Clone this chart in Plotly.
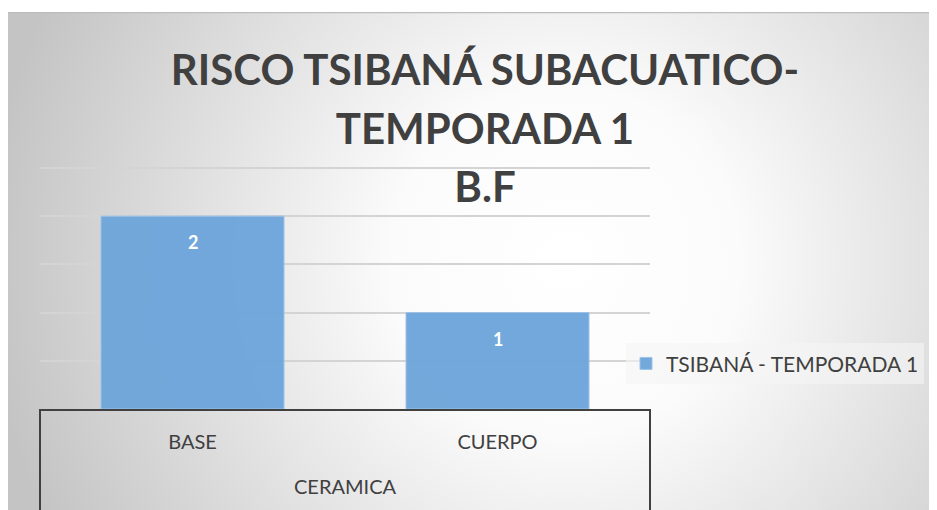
import base64
import plotly.graph_objects as go

# ---- data ----
group_label = "CERAMICA"
categories = ["BASE", "CUERPO"]
values = [2, 1]
series_name = "TSIBANÁ - TEMPORADA 1"
title_lines = ["RISCO TSIBANÁ SUBACUATICO-", "TEMPORADA 1", "B.F"]

# page body has an 8px margin, so the figure is 8px smaller than the window
W, H = 929, 502
ML, MR, MT, MB = 32, 287, 158, 101
pw, ph = W - ML - MR, H - MT - MB
YMAX = 2.52

FONT = "Lato"
DARK = "#404040"

# background radial gradient (Office style) as inline SVG
bg_w, bg_h = 932, 498
svg = f"""<svg xmlns='http://www.w3.org/2000/svg' width='{bg_w}' height='{bg_h}' viewBox='0 0 {bg_w} {bg_h}' preserveAspectRatio='none'>
<defs><radialGradient id='g' gradientUnits='userSpaceOnUse' cx='560' cy='250' r='580'>
<stop offset='0' stop-color='#ffffff'/><stop offset='0.3' stop-color='#fbfbfb'/>
<stop offset='1' stop-color='#c4c4c4'/></radialGradient></defs>
<rect x='0' y='0' width='{bg_w}' height='{bg_h}' fill='url(#g)'/>
<line x1='0' y1='0.5' x2='{bg_w}' y2='0.5' stroke='#bdbdbd' stroke-width='1.5'/>
</svg>"""
src = "data:image/svg+xml;base64," + base64.b64encode(svg.encode()).decode()

fig = go.Figure()
fig.add_trace(go.Bar(
    x=categories,
    y=values,
    name=series_name,
    marker=dict(color="#6fa6db", line=dict(color="#9cc2e8", width=1)),
    opacity=0.97,
    showlegend=True,
))

# data labels (inside end of each bar)
annotations = []
for i, v in enumerate(values):
    annotations.append(dict(
        x=i, y=v, xref="x", yref="y", text=f"<b>{v}</b>", showarrow=False,
        yanchor="middle", yshift=-26,
        font=dict(family=FONT, size=18, color="white"),
    ))
# outer category level label
annotations.append(dict(
    x=0.5, y=0, xref="paper", yref="paper", text=group_label, showarrow=False,
    yanchor="middle", yshift=-77,
    font=dict(family=FONT, size=20, color=DARK),
))

# group dividers of the two-level category axis
shapes = [
    dict(type="line", xref="paper", yref="paper", x0=xx, x1=xx, y0=0, y1=-(MB + 5) / ph,
         line=dict(color=DARK, width=2))
    for xx in (0, 1)
]

title_text = "<b>" + "<br>".join(
    f"<span style='font-size:42px'>{t}</span>" for t in title_lines) + "</b>"

fig.update_layout(
    width=W, height=H,
    margin=dict(l=ML, r=MR, t=MT, b=MB, pad=0),
    paper_bgcolor="white",
    plot_bgcolor="rgba(0,0,0,0)",
    bargap=0.4,
    title=dict(
        text=title_text,
        x=477 / W, xanchor="center",
        y=1 - 77 / H, yanchor="top",
        font=dict(family=FONT, size=45, color=DARK),
    ),
    font=dict(family=FONT, color=DARK),
    legend=dict(
        x=(618 - ML) / pw, xanchor="left",
        y=0.186, yanchor="middle",
        bgcolor="rgba(245,245,245,0.6)",
        font=dict(family=FONT, size=21, color=DARK),
        itemwidth=30,
    ),
    annotations=annotations,
    shapes=shapes,
    images=[dict(
        source=src, xref="paper", yref="paper",
        x=(-3 - ML) / pw, y=(H - MB - 4) / ph,
        sizex=bg_w / pw, sizey=bg_h / ph,
        xanchor="left", yanchor="top",
        sizing="stretch", layer="below",
    )],
)

fig.update_xaxes(
    type="category",
    showline=True, linecolor=DARK, linewidth=2,
    tickfont=dict(family=FONT, size=20, color=DARK),
    ticklabelstandoff=14,
    showgrid=False,
)
fig.update_yaxes(
    range=[0, YMAX], dtick=0.5, showgrid=True,
    gridcolor="#d4d4d4", gridwidth=1.5,
    showticklabels=False, zeroline=False, showline=False,
)

fig.write_html("out.html")
